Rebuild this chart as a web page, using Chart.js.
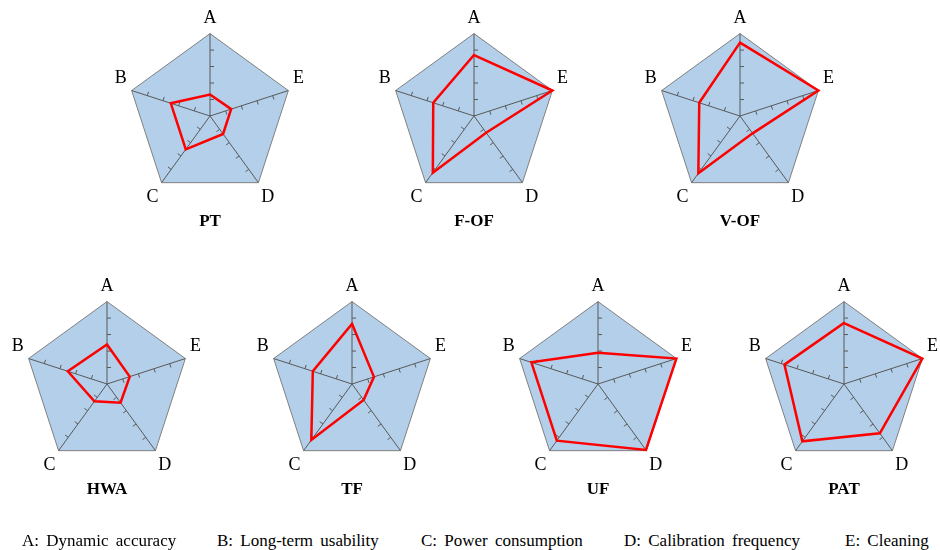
<!DOCTYPE html>
<html lang="en">
<head>
<meta charset="UTF-8">
<title>Sensor comparison radar charts</title>
<script src="https://cdn.jsdelivr.net/npm/chart.js"></script>
<style>
    body { margin: 0; background: #fff; font-family: "Liberation Serif", "Times New Roman", serif; }
    #page { position: relative; width: 940px; height: 550px; overflow: hidden; }
    .box { position: absolute; }
    .name { position: absolute; width: 120px; text-align: center; font-weight: bold; font-size: 17px; color: #000; }
    .key { position: absolute; top: 531px; font-size: 17px; word-spacing: 3px; color: #000; white-space: nowrap; }
</style>
</head>
<body>
<div id="page"></div>
<script>
// axis order in the figure, clockwise from the top
const axisLabels = ['A', 'E', 'D', 'C', 'B'];
const tickValues = [1, 2, 3, 4];

// scores per method, in order A, B, C, D, E
const ptScores   = [1.3, 2.5, 2.5, 1.35, 1.35];
const fofScores  = [3.7, 2.6, 4.25, 1.25, 5];
const vofScores  = [4.45, 2.6, 4.3, 1.3, 5];
const hwaScores  = [2.4, 2.5, 1.3, 1.4, 1.45];
const tfScores   = [3.65, 2.5, 4.2, 1.2, 1.4];
const ufScores   = [1.9, 4.25, 4.25, 4.95, 5];
const patScores  = [3.7, 3.8, 4.3, 3.7, 5];

const methods = ['PT', 'F-OF', 'V-OF', 'HWA', 'TF', 'UF', 'PAT'];
const scores = [ptScores, fofScores, vofScores, hwaScores, tfScores, ufScores, patScores];

const legendItems = ['A: Dynamic accuracy', 'B: Long-term usability', 'C: Power consumption', 'D: Calibration frequency', 'E: Cleaning'];
const legendX = [22, 217, 421, 624, 845];

// centre of each little chart's box
const centres = [[210, 106], [474, 106], [740, 106], [107, 374], [352, 374], [598, 374], [844, 374]];
const titleY = [211, 211, 211, 479, 479, 479, 479];

const tickMarks = {
    id: 'tickMarks',
    beforeDatasetsDraw(chart) {
        const s = chart.scales.r;
        const ctx = chart.ctx;
        ctx.save();
        ctx.strokeStyle = '#595959';
        ctx.lineWidth = 1;
        for (let i = 0; i < chart.data.labels.length; i++) {
            const end = s.getPointPositionForValue(i, 5);
            const dx = end.x - s.xCenter, dy = end.y - s.yCenter;
            const len = Math.hypot(dx, dy);
            const nx = -dy / len, ny = dx / len;
            tickValues.forEach(v => {
                const p = s.getPointPositionForValue(i, v);
                ctx.beginPath();
                ctx.moveTo(p.x, p.y);
                ctx.lineTo(p.x + nx * 4, p.y + ny * 4);
                ctx.stroke();
            });
        }
        ctx.restore();
    }
};

// A,B,C,D,E -> clockwise order A,E,D,C,B
function reorder(v) {
    return [v[0], v[4], v[3], v[2], v[1]];
}

const page = document.getElementById('page');
const W = 240, H = 218;

methods.forEach((name, k) => {
    const [cx, cy] = centres[k];
    const box = document.createElement('div');
    box.className = 'box';
    box.style.left = (cx - W / 2) + 'px';
    box.style.top = (cy - H / 2) + 'px';
    box.style.width = W + 'px';
    box.style.height = H + 'px';
    const canvas = document.createElement('canvas');
    box.appendChild(canvas);
    page.appendChild(box);

    const t = document.createElement('div');
    t.className = 'name';
    t.style.left = (cx - 60) + 'px';
    t.style.top = titleY[k] + 'px';
    t.textContent = name;
    page.appendChild(t);

    new Chart(canvas, {
        type: 'radar',
        data: {
            labels: axisLabels,
            datasets: [{
                label: name,
                data: reorder(scores[k]),
                borderColor: '#ff0000',
                borderWidth: 2.5,
                fill: false,
                pointRadius: 0,
                tension: 0
            }]
        },
        options: {
            responsive: true,
            maintainAspectRatio: false,
            animation: false,
            layout: { padding: 0 },
            plugins: { legend: { display: false }, tooltip: { enabled: false } },
            scales: {
                r: {
                    min: 0,
                    max: 5,
                    backgroundColor: '#b4cfe9',
                    ticks: { display: false, stepSize: 1 },
                    grid: {
                        color: c => c.tick && c.tick.value === 5 ? '#808080' : 'rgba(0,0,0,0)',
                        lineWidth: 1
                    },
                    angleLines: { color: '#595959', lineWidth: 1 },
                    pointLabels: {
                        color: '#000',
                        padding: 5,
                        font: { family: 'Liberation Serif', size: 18 }
                    }
                }
            }
        },
        plugins: [tickMarks]
    });
});

legendItems.forEach((txt, i) => {
    const d = document.createElement('div');
    d.className = 'key';
    d.style.left = legendX[i] + 'px';
    d.textContent = txt;
    page.appendChild(d);
});
</script>
</body>
</html>
